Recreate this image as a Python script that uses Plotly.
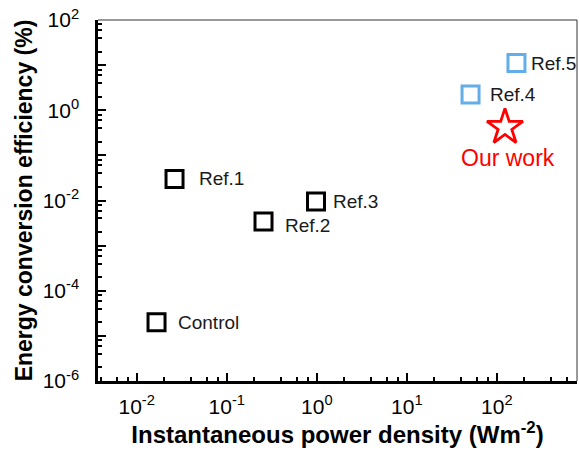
import math
import plotly.graph_objects as go

# ---- data ----
ref_names = ["Control", "Ref.1", "Ref.2", "Ref.3"]
ref_power = [0.0166, 0.0263, 0.256, 0.98]
ref_eff = [2.0e-5, 0.030, 0.00344, 0.0095]

ref_blue_names = ["Ref.4", "Ref.5"]
ref_blue_power = [51.0, 165.0]
ref_blue_eff = [2.23, 11.1]

our_name = ["Our work"]
our_power = [123.0]
our_eff = [0.42]

x_tick_vals = [0.01, 0.1, 1, 10, 100]
x_tick_text = ["10<sup>-2</sup>", "10<sup>-1</sup>", "10<sup>0</sup>", "10<sup>1</sup>", "10<sup>2</sup>"]
y_tick_vals = [1e-6, 1e-5, 1e-4, 1e-3, 1e-2, 1e-1, 1, 10, 100]
y_tick_text = ["10<sup>-6</sup>", "", "10<sup>-4</sup>", "", "10<sup>-2</sup>", "", "10<sup>0</sup>", "", "10<sup>2</sup>"]

# ---- styling ----
FONT = "Arial, Liberation Sans, sans-serif"
BLACK = "#000000"
BLUE = "#63AEE8"
RED = "#FF0000"
label_xshift = {"Control": 19, "Ref.1": 22, "Ref.2": 19, "Ref.3": 15, "Ref.4": 17, "Ref.5": 13}
label_yshift = {"Control": 0, "Ref.1": 0, "Ref.2": -4, "Ref.3": 0, "Ref.4": 0, "Ref.5": 0}

fig = go.Figure()
fig.add_trace(go.Scatter(
    x=ref_power, y=ref_eff, mode="markers",
    marker=dict(symbol="square-open", size=17, color=BLACK, line=dict(width=3, color=BLACK)),
    showlegend=False))
fig.add_trace(go.Scatter(
    x=ref_blue_power, y=ref_blue_eff, mode="markers",
    marker=dict(symbol="square-open", size=17, color=BLUE, line=dict(width=3, color=BLUE)),
    showlegend=False))
fig.add_trace(go.Scatter(
    x=our_power, y=our_eff, mode="markers",
    marker=dict(symbol="star-open", size=27, color=RED, line=dict(width=2.8, color=RED)),
    showlegend=False))

annotations = []
for n, xv, yv in list(zip(ref_names, ref_power, ref_eff)) + list(zip(ref_blue_names, ref_blue_power, ref_blue_eff)):
    annotations.append(dict(
        x=math.log10(xv), y=math.log10(yv), xref="x", yref="y", text=n, showarrow=False,
        xanchor="left", yanchor="middle", xshift=label_xshift[n], yshift=label_yshift[n],
        font=dict(family=FONT, size=19, color="#1a1a1a")))
for n, xv, yv in zip(our_name, our_power, our_eff):
    annotations.append(dict(
        x=math.log10(xv), y=math.log10(yv), xref="x", yref="y", text=n, showarrow=False,
        xanchor="center", yanchor="middle", xshift=3, yshift=-31,
        font=dict(family=FONT, size=23, color=RED)))

minor_x = [m * 10.0 ** e for e in range(-3, 3) for m in (2, 4, 6, 8)]
minor_y = [m * 10.0 ** e for e in range(-6, 2) for m in (2, 4, 6, 8)]

fig.update_layout(
    width=579, height=453,
    margin=dict(l=98, r=2, t=20, b=72),
    paper_bgcolor="white", plot_bgcolor="white",
    font=dict(family=FONT, color=BLACK),
    annotations=annotations,
    xaxis=dict(
        type="log", range=[-2.43, 2.89], automargin=False,
        tickmode="array", tickvals=x_tick_vals, ticktext=x_tick_text,
        ticks="inside", ticklen=8, tickwidth=2, tickcolor=BLACK,
        showline=True, linewidth=2.5, linecolor=BLACK, mirror=False,
        showgrid=False, zeroline=False,
        tickfont=dict(family=FONT, size=21, color=BLACK),
        ticklabelstandoff=5,
        minor=dict(tickmode="array", tickvals=minor_x, ticks="inside", ticklen=4,
                   tickwidth=2, tickcolor=BLACK, showgrid=False),
        title=dict(text="<b>Instantaneous power density (Wm<sup>-2</sup>)</b>",
                   font=dict(family=FONT, size=24, color=BLACK), standoff=3),
    ),
    yaxis=dict(
        type="log", range=[-6, 2], automargin=False,
        tickmode="array", tickvals=y_tick_vals, ticktext=y_tick_text,
        ticks="inside", ticklen=8, tickwidth=2, tickcolor=BLACK,
        showline=True, linewidth=2.5, linecolor=BLACK, mirror=False,
        showgrid=False, zeroline=False,
        tickfont=dict(family=FONT, size=21, color=BLACK),
        ticklabelstandoff=12,
        minor=dict(tickmode="array", tickvals=minor_y, ticks="inside", ticklen=4,
                   tickwidth=2, tickcolor=BLACK, showgrid=False),
        title=dict(text="<b>Energy conversion efficiency (%)</b>",
                   font=dict(family=FONT, size=23, color=BLACK), standoff=4),
    ),
    shapes=[
        dict(type="line", xref="paper", yref="paper", x0=0, x1=1, y0=1, y1=1,
             line=dict(color="#333333", width=1)),
        dict(type="line", xref="paper", yref="paper", x0=1, x1=1, y0=0, y1=1,
             line=dict(color="#333333", width=1)),
    ],
)

fig.write_html("out.html", config={"displayModeBar": False},
               post_script="document.body.style.margin='0px';")
